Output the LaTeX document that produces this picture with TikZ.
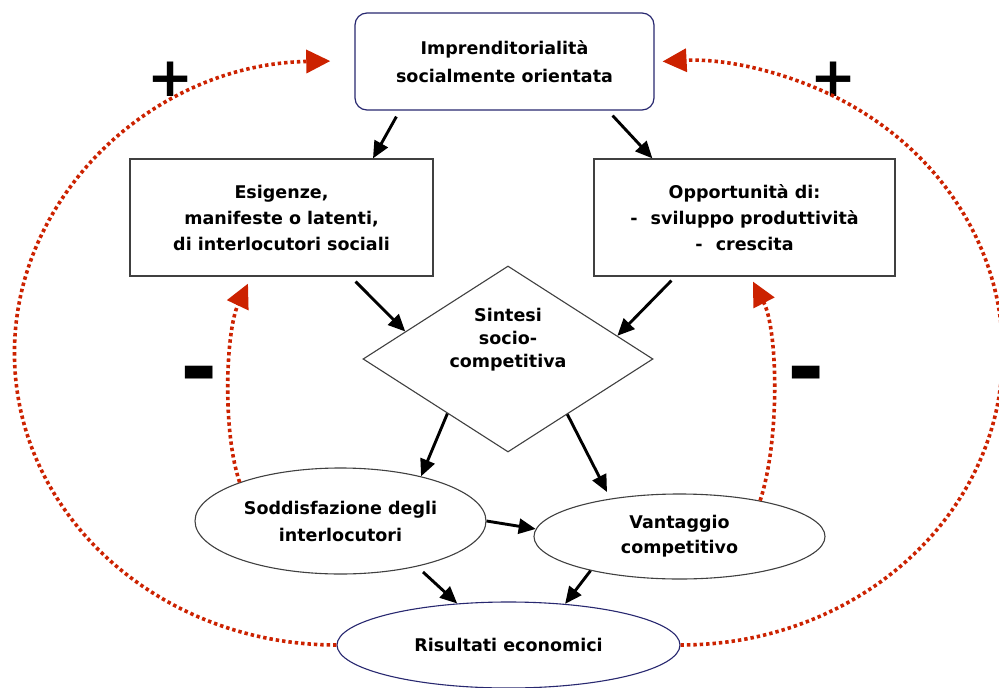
\documentclass[tikz,border=0pt]{standalone}
\usepackage{fontspec}
\setmainfont{DejaVu Sans}
\usetikzlibrary{arrows.meta,shapes.geometric,calc}

\definecolor{loopred}{RGB}{204,34,0}
\definecolor{deepnavy}{RGB}{40,40,112}
\definecolor{edgegray}{RGB}{64,64,64}

\begin{document}
\begin{tikzpicture}[x=1pt,y=1pt,
  lbl/.style={font=\bfseries\fontsize{17.5}{26}\selectfont, align=center, text=black},
  boxnode/.style={lbl, rectangle, draw=edgegray, line width=1.2pt, inner sep=0pt},
  ovalnode/.style={lbl, ellipse, draw=edgegray, line width=1.1pt, inner sep=0pt},
  flow/.style={black, line width=2.9pt, -{Triangle[length=17pt,width=15pt]}},
  loopline/.style={loopred, line width=3.6pt, dash pattern=on 3.4pt off 3pt,
    -{Triangle[length=24pt,width=23pt]}},
  plussign/.style={font=\bfseries\fontsize{55}{55}\selectfont, inner sep=0pt},
  minussign/.style={font=\bfseries\fontsize{90}{90}\selectfont, inner sep=0pt},
]
% canvas
\useasboundingbox (0,0) rectangle (999,-688);
\fill[white] (0,0) rectangle (999,-688);

% nodes
\node[boxnode, draw=deepnavy, rounded corners=12pt, minimum width=299pt, minimum height=97pt,
      font=\bfseries\fontsize{17.5}{28}\selectfont]
  (top) at (504.5,-61.5) {Imprenditorialità\\socialmente orientata};
\node[boxnode, minimum width=303pt, minimum height=117pt]
  (esig) at (281.5,-217.5) {Esigenze,\\manifeste o latenti,\\di interlocutori sociali};
\node[boxnode, minimum width=301pt, minimum height=117pt]
  (opp) at (744.5,-217.5) {Opportunità di:\\-\hspace{0.75em}sviluppo produttività\\-\hspace{0.75em}crescita};
\node[diamond, draw=edgegray, line width=1.1pt, inner sep=0pt, aspect=1.56,
      minimum width=290pt, minimum height=186pt,
      label={[lbl, font=\bfseries\fontsize{17.5}{23}\selectfont, yshift=19pt]center:{Sintesi\\socio-\\competitiva}}]
  (syn) at (508,-359) {};
\node[ovalnode, minimum width=291pt, minimum height=106pt,
      font=\bfseries\fontsize{17.5}{27}\selectfont]
  (sodd) at (340.5,-521) {Soddisfazione degli\\interlocutori};
\node[ovalnode, minimum width=291pt, minimum height=85pt,
      font=\bfseries\fontsize{17.5}{25}\selectfont]
  (van) at (679.5,-536.5) {Vantaggio\\competitivo};
\node[ovalnode, draw=deepnavy, minimum width=343pt, minimum height=86pt]
  (res) at (508.5,-645) {Risultati economici};

% loop signs
\node[plussign] (plusL) at (171,-79) {+};
\node[plussign] (plusR) at (834,-79) {+};
\node[minussign] (minL) at (199,-382) {-};
\node[minussign] (minR) at (806,-382) {-};

% causal flow
\draw[flow] ($(top.south west)+(42,-6)$) -- ($(esig.north)+(91.5,0)$);
\draw[flow] ($(top.south east)+(-42,-5)$) -- ($(opp.north west)+(59,0)$);
\draw[flow] ($(esig.south east)+(-78,-5)$) -- (syn.165);
\draw[flow] ($(opp.south west)+(78,-4)$) -- (syn.12);
\draw[flow] (syn.222) -- (sodd.29);
\draw[flow] (syn.-43) -- ($(van.center)+(-72.5,44.5)$);
\draw[flow] (sodd.east) -- (van.177);
\draw[flow] ($(sodd.center)+(82.5,-51)$) -- (res.141.6);
\draw[flow] (van.201) -- (res.36);

% reinforcing loops
\draw[loopline] (res.west) arc[start angle=270, end angle=91.1, x radius=322, y radius=292];
\draw[loopline] (res.east) arc[start angle=-90, end angle=93.2, x radius=322, y radius=292];

% balancing loops
\draw[loopline] (sodd.159) .. controls (222,-430) and (226,-330) .. ($(esig.south)+(-33.5,-7)$);
\draw[loopline] (van.24) .. controls (780,-440) and (778,-330) .. ($(opp.south)+(8.5,-5)$);
\end{tikzpicture}
\end{document}
